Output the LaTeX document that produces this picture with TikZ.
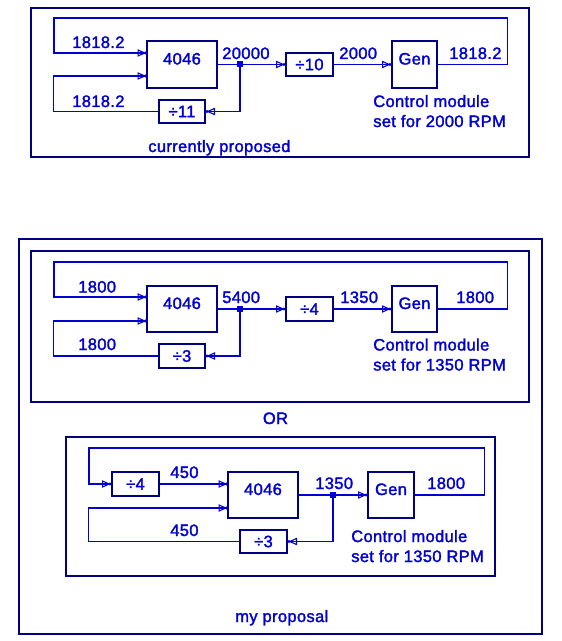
\documentclass[tikz,border=0pt]{standalone}
\usepackage{fontspec}
\newfontfamily\police{Liberation Sans}[FakeBold=1.8,LetterSpace=2]
\usetikzlibrary{arrows.meta}
\definecolor{bleu}{RGB}{0,0,210}
\definecolor{marine}{RGB}{0,0,128}
\begin{document}
\begin{tikzpicture}[x=0.75pt,y=-0.75pt]
		% Styles (MODIFIABLES)
		\tikzstyle{fil}=[bleu,line width=0.8pt]
		\tikzstyle{fleche}=[fil,-{Triangle[open,length=6.5pt,width=5.5pt,sep=-1.6pt]Circle[length=2.2pt]}]
		\tikzstyle{bloc}=[draw=marine,line width=0.8pt,inner sep=0pt,text=bleu,font=\police\fontsize{12.4}{14}\selectfont]
		\tikzstyle{haut}=[text height=9pt,text depth=9pt]
		\tikzstyle{cadre}=[draw=marine,line width=1.1pt]
		\tikzstyle{commentaire}=[bleu,inner sep=0pt,anchor=base west,font=\police\fontsize{12.4}{14}\selectfont]
		\tikzstyle{jonction}=[fill=bleu,minimum size=4.5pt,inner sep=0pt]
		\useasboundingbox (0,0) rectangle (561,641);
		% Cadres
		\draw[cadre] (31,8) rectangle (529,157);
		\draw[cadre] (19,239) rectangle (542,634);
		\draw[cadre] (31,251) rectangle (529,402);
		\draw[cadre] (66,437) rectangle (495,576);
		% Noeuds : actuel
		\node[bloc,haut,minimum width=52.5pt,minimum height=35.25pt] (PLLa) at (182,64.5) {4046};
		\node[bloc,minimum width=35.25pt,minimum height=17.25pt] (DivDix) at (309.5,64.5) {÷10};
		\node[bloc,haut,minimum width=33.75pt,minimum height=35.25pt] (GenA) at (414.5,64.5) {Gen};
		\node[bloc,minimum width=34.5pt,minimum height=17.25pt] (DivOnze) at (182,111.5) {÷11};
		\node[jonction] (Ja) at (240,64.5) {};
		\coordinate (EntreeAa) at (147,53);
		\coordinate (EntreeAb) at (147,76);
		\coordinate (RetourA) at (54,18);
		%
		\node[commentaire] (Fa1) at (72,48) {1818.2};
		\node[commentaire] (Fa2) at (72,107) {1818.2};
		\node[commentaire] (Fa3) at (222,59) {20000};
		\node[commentaire] (Fa4) at (339,59) {2000};
		\node[commentaire] (Fa5) at (449,59) {1818.2};
		\node[commentaire] (Ca1) at (373,107) {Control module};
		\node[commentaire] (Ca2) at (373,127) {set for 2000 RPM};
		\node[commentaire] (Ta) at (148,152) {currently proposed};
		% Noeuds : variante 1
		\node[bloc,haut,minimum width=52.5pt,minimum height=34.5pt] (PLLb) at (182,309) {4046};
		\node[bloc,minimum width=35.25pt,minimum height=18pt] (DivQuatre) at (309.5,309) {÷4};
		\node[bloc,haut,minimum width=33.75pt,minimum height=34.5pt] (GenB) at (414.5,309) {Gen};
		\node[bloc,minimum width=34.5pt,minimum height=18pt] (DivTrois) at (182,356) {÷3};
		\node[jonction] (Jb) at (240,309) {};
		\coordinate (EntreeBa) at (147,297);
		\coordinate (EntreeBb) at (147,321);
		\coordinate (RetourB) at (54,262);
		%
		\node[commentaire] (Fb1) at (78,292.5) {1800};
		\node[commentaire] (Fb2) at (78,350) {1800};
		\node[commentaire] (Fb3) at (222,303) {5400};
		\node[commentaire] (Fb4) at (340,303) {1350};
		\node[commentaire] (Fb5) at (456,303) {1800};
		\node[commentaire] (Cb1) at (373,350.5) {Control module};
		\node[commentaire] (Cb2) at (373,370.5) {set for 1350 RPM};
		\node[commentaire,anchor=base] (Ou) at (275.5,424) {OR};
		% Noeuds : variante 2
		\node[bloc,minimum width=35.25pt,minimum height=18pt] (DivQuatreC) at (135.5,484) {÷4};
		\node[bloc,haut,minimum width=52.5pt,minimum height=34.5pt] (PLLc) at (263,495) {4046};
		\node[bloc,haut,minimum width=34.5pt,minimum height=34.5pt] (GenC) at (391,495) {Gen};
		\node[bloc,minimum width=35.25pt,minimum height=17.25pt] (DivTroisC) at (263.5,541.5) {÷3};
		\node[jonction] (Jc) at (333,495) {};
		\coordinate (EntreeCa) at (228,484);
		\coordinate (EntreeCb) at (228,508);
		\coordinate (RetourC) at (89,448);
		%
		\node[commentaire] (Fc1) at (170,478) {450};
		\node[commentaire] (Fc2) at (170,536) {450};
		\node[commentaire] (Fc3) at (315,489) {1350};
		\node[commentaire] (Fc4) at (427,489) {1800};
		\node[commentaire] (Cc1) at (351,542) {Control module};
		\node[commentaire] (Cc2) at (351,562) {set for 1350 RPM};
		\node[commentaire] (Tc) at (235,622) {my proposal};
		
		% Arcs (MODIFIABLES : Styles)
		\draw[fil] (PLLa.east) -- (Ja.center);
		\draw[fleche] (Ja.center) -- (DivDix.west);
		\draw[fleche] (Ja.center) |- (DivOnze.east);
		\draw[fleche] (DivOnze.west) -- ++(-105,0) |- (EntreeAb);
		\draw[fleche] (DivDix.east) -- (GenA.west);
		\draw[fleche] (GenA.east) -- ++(70,0) |- (RetourA) |- (EntreeAa);
		%
		\draw[fil] (PLLb.east) -- (Jb.center);
		\draw[fleche] (Jb.center) -- (DivQuatre.west);
		\draw[fleche] (Jb.center) |- (DivTrois.east);
		\draw[fleche] (DivTrois.west) -- ++(-105,0) |- (EntreeBb);
		\draw[fleche] (DivQuatre.east) -- (GenB.west);
		\draw[fleche] (GenB.east) -- ++(70,0) |- (RetourB) |- (EntreeBa);
		%
		\draw[fleche] (DivQuatreC.east) -- (EntreeCa);
		\draw[fil] (PLLc.east) -- (Jc.center);
		\draw[fleche] (Jc.center) -- (GenC.west);
		\draw[fleche] (Jc.center) |- (DivTroisC.east);
		\draw[fleche] (DivTroisC.west) -- ++(-151,0) |- (EntreeCb);
		\draw[fleche] (GenC.east) -- ++(70,0) |- (RetourC) |- (DivQuatreC.west);
		% Jonctions par-dessus
		\node[jonction] at (Ja) {};
		\node[jonction] at (Jb) {};
		\node[jonction] at (Jc) {};
	\end{tikzpicture}
\end{document}
